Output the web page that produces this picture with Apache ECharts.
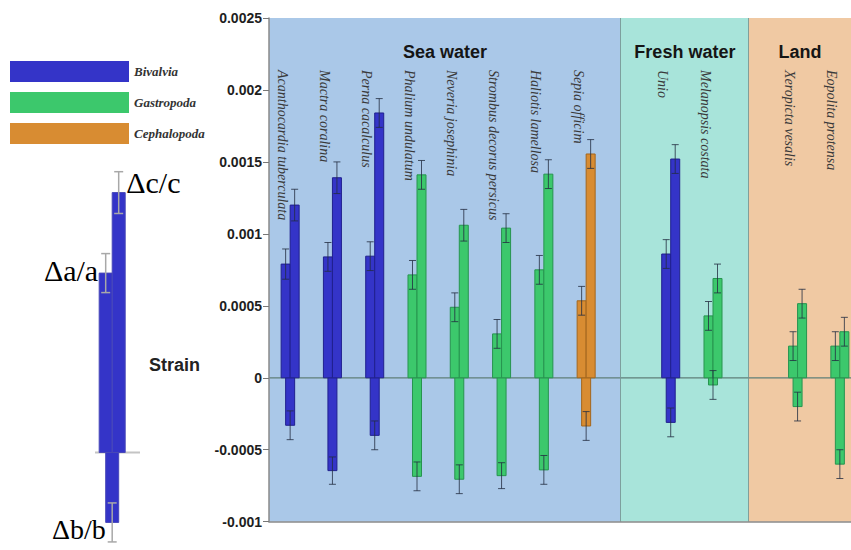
<!DOCTYPE html>
<html>
<head>
<meta charset="utf-8">
<script src="https://cdn.jsdelivr.net/npm/echarts@6/dist/echarts.min.js"></script>
<style>html,body{margin:0;padding:0;background:#fff}#c{width:851px;height:550px}</style>
</head>
<body>
<div id="c"></div>
<script>
// ---------- data ----------
const speciesNames = ['Acanthocardia tuberculata','Mactra coralina','Perna cacalculus','Phalium undulatum',
  'Neveria josephinia','Strombus decorus persicus','Haliotis lamellosa','Sepia officim',
  'Unio','Melanopsis costata','Xeropicta vesalis','Eopolita protensa'];
const speciesClass = ['Bivalvia','Bivalvia','Bivalvia','Gastropoda','Gastropoda','Gastropoda','Gastropoda',
  'Cephalopoda','Bivalvia','Gastropoda','Gastropoda','Gastropoda'];
const speciesSlot = [0,1,2,3,4,5,6,7,9,10,12,13];
const strainA = [0.00079,0.00084,0.000845,0.000715,0.00049,0.000305,0.00075,0.000535,0.00086,0.00043,0.00022,0.00022];
const strainB = [-0.00033,-0.000645,-0.0004,-0.000685,-0.000705,-0.00068,-0.00064,-0.000335,-0.00031,-0.00005,-0.0002,-0.0006];
const strainC = [0.0012,0.00139,0.00184,0.00141,0.00106,0.00104,0.001415,0.001555,0.00152,0.00069,0.000515,0.00032];
const errA = [0.000105,0.0001,0.0001,0.0001,0.0001,0.0001,0.0001,0.0001,0.0001,0.0001,0.0001,0.0001];
const errB = [0.0001,0.000095,0.0001,0.0001,0.0001,0.00009,0.0001,0.0001,0.0001,0.0001,0.0001,0.0001];
const errC = [0.00011,0.00011,0.0001,0.0001,0.00011,0.0001,0.0001,0.0001,0.0001,0.0001,0.0001,0.0001];
const classNames = ['Bivalvia','Gastropoda','Cephalopoda'];
const regionNames = ['Sea water','Fresh water','Land'];
const regionStart = [0, 8.32, 11.35];
const regionEnd = [8.32, 11.35, 13.77];
const insetLabels = ['\u0394a/a','\u0394b/b','\u0394c/c'];
const insetStrain = [0.000644,-0.000251,0.000933];
const insetErr = [0.00007,0.00007,0.000075];
const yMin = -0.001, yMax = 0.0025, yStep = 0.0005;

// ---------- styles ----------
const classColors = ['#3434c8','#3cc86c','#d88c32'];
const classBorders = ['#20208e','#27944f','#a4661c'];
const regionColors = ['#aac8e8','#a8e4da','#f0c9a3'];
const SANS = 'Liberation Sans, Arial, sans-serif';
const SERIF = 'Liberation Serif, Times New Roman, serif';
const BAR_W = 0.213, INSET_BAR_W = 0.289;

function barChildren(api, barW, border, errColor, capHalf, errWidth) {
  const x = api.value(0);
  const vals = [api.value(1), api.value(2), api.value(3)];
  const errs = [api.value(4), api.value(5), api.value(6)];
  const bw = api.size([barW, 0])[0];
  const base = api.coord([x, 0]);
  const color = api.visual('color');
  const offs = [-0.5, 0, 0.5];
  const order = [1, 0, 2];
  const ch = [];
  const pos = [];
  order.forEach(k => {
    const cx = base[0] + offs[k] * bw;
    const top = api.coord([x, vals[k]])[1];
    pos[k] = {cx, top};
    ch.push({type:'rect', shape:{x: cx - bw/2, y: Math.min(top, base[1]), width: bw, height: Math.abs(top - base[1])},
      style:{fill: color, stroke: border, lineWidth: 1}});
  });
  order.forEach(k => {
    const cx = pos[k].cx;
    const y1 = api.coord([x, vals[k] + errs[k]])[1];
    const y2 = api.coord([x, vals[k] - errs[k]])[1];
    const st = {stroke: errColor, lineWidth: errWidth};
    ch.push({type:'line', shape:{x1:cx, y1:y1, x2:cx, y2:y2}, style: st});
    ch.push({type:'line', shape:{x1:cx-capHalf, y1:y1, x2:cx+capHalf, y2:y1}, style: st});
    ch.push({type:'line', shape:{x1:cx-capHalf, y1:y2, x2:cx+capHalf, y2:y2}, style: st});
  });
  return {ch, pos, bw, base};
}

const classSeries = classNames.map((cn, ci) => ({
  type: 'custom', name: cn, xAxisIndex: 0, yAxisIndex: 0, z: 3,
  itemStyle: {color: classColors[ci]},
  encode: {x: 0, y: 1},
  data: speciesNames.map((n, i) => i).filter(i => speciesClass[i] === cn)
    .map(i => [speciesSlot[i] + 0.5, strainA[i], strainB[i], strainC[i], errA[i], errB[i], errC[i]]),
  renderItem: (params, api) => ({type:'group',
    children: barChildren(api, BAR_W, classBorders[ci], 'rgba(35,45,65,0.8)', 3.5, 1).ch})
}));

const option = {
  animation: false,
  backgroundColor: '#ffffff',
  legend: {
    data: classNames, orient: 'vertical', left: 10, top: 61, padding: 0,
    itemWidth: 119, itemHeight: 21, itemGap: 10, icon: 'rect', selectedMode: false,
    textStyle: {fontFamily: SERIF, fontStyle: 'italic', fontWeight: 'bold', fontSize: 13, color: '#333'}
  },
  grid: [
    {left: 269, top: 18, width: 592, height: 503.7, outerBoundsMode: 'none', containLabel: false},
    {left: 95, top: 160, width: 45, height: 390, outerBoundsMode: 'none', containLabel: false}
  ],
  xAxis: [
    {gridIndex: 0, type: 'value', min: 0, max: 14, z: 5,
      axisLine: {show: true, onZero: false, lineStyle: {color: '#8a8a8a', width: 1.5}},
      axisTick: {show: false}, axisLabel: {show: false}, splitLine: {show: false}},
    {gridIndex: 1, type: 'value', min: 0, max: 1, show: false}
  ],
  yAxis: [
    {gridIndex: 0, type: 'value', min: yMin, max: yMax, interval: yStep, z: 5,
      axisLine: {show: true, lineStyle: {color: '#8a8a8a', width: 1.5}},
      axisTick: {show: true, length: 6, lineStyle: {color: '#777'}},
      splitLine: {show: false},
      axisLabel: {margin: 7, fontFamily: SANS, fontSize: 14, fontWeight: 'bold', color: '#1e1e1e',
        formatter: v => String(parseFloat(Number(v).toFixed(4)))}},
    {gridIndex: 1, type: 'value', min: -0.00035, max: 0.00105, show: false}
  ],
  graphic: [
    {type: 'text', left: 149, top: 356, style: {text: 'Strain', fontFamily: SANS, fontSize: 18, fontWeight: 'bold', fill: '#222'}}
  ],
  series: [
    {
      type: 'custom', name: 'regions', xAxisIndex: 0, yAxisIndex: 0, z: 1, silent: true,
      data: regionNames.map((n, i) => [regionStart[i], regionEnd[i]]),
      renderItem: (params, api) => {
        const i = params.dataIndex;
        const s = api.value(0), e = api.value(1);
        const p0 = api.coord([s, yMax]), p1 = api.coord([e, yMin]);
        const z0 = api.coord([s, 0]), z1 = api.coord([e, 0]);
        const ch = [
          {type: 'rect', shape: {x: p0[0], y: p0[1], width: p1[0] - p0[0], height: p1[1] - p0[1]}, style: {fill: regionColors[i]}},
          {type: 'line', shape: {x1: z0[0], y1: z0[1], x2: z1[0], y2: z1[1]}, style: {stroke: '#5f7f78', lineWidth: 1.2}},
          {type: 'text', x: (p0[0] + p1[0]) / 2, y: p0[1] + 34,
            style: {text: regionNames[i], align: 'center', verticalAlign: 'middle', fontFamily: SANS, fontSize: 18, fontWeight: 'bold', fill: '#151515'}}
        ];
        if (i < regionNames.length - 1) {
          ch.push({type: 'line', shape: {x1: p1[0], y1: p0[1], x2: p1[0], y2: p1[1]}, style: {stroke: '#6f8c8a', lineWidth: 1.5}});
        }
        return {type: 'group', children: ch};
      }
    },
    {
      type: 'custom', name: 'species', xAxisIndex: 0, yAxisIndex: 0, z: 2, silent: true,
      data: speciesSlot.map(s => [s + 0.5, yMax]),
      renderItem: (params, api) => {
        const p = api.coord([api.value(0), api.value(1)]);
        return {type: 'text', x: p[0] - 8, y: p[1] + 52, rotation: -Math.PI / 2,
          style: {text: speciesNames[params.dataIndex], align: 'left', verticalAlign: 'middle',
            fontFamily: SERIF, fontStyle: 'italic', fontSize: 14, fill: '#3a3a3a'}};
      }
    },
    ...classSeries,
    {
      type: 'custom', name: 'inset', xAxisIndex: 1, yAxisIndex: 1, z: 3, silent: true,
      itemStyle: {color: classColors[0]},
      data: [[0.382, insetStrain[0], insetStrain[1], insetStrain[2], insetErr[0], insetErr[1], insetErr[2]]],
      renderItem: (params, api) => {
        const r = barChildren(api, INSET_BAR_W, '#4848b8', '#a8a8a8', 4.5, 1.5);
        const b0 = api.coord([0, 0]), b1 = api.coord([1, 0]);
        const ch = [{type: 'line', shape: {x1: b0[0], y1: b0[1], x2: b1[0], y2: b1[1]}, style: {stroke: '#c4c4c4', lineWidth: 2}}].concat(r.ch);
        const x = api.value(0);
        const ls = {fontFamily: SERIF, fontSize: 30, fill: '#000', verticalAlign: 'middle'};
        const yA = api.coord([x, insetStrain[0]])[1];
        const yB = api.coord([x, insetStrain[1] - insetErr[1]])[1];
        const yC = api.coord([x, insetStrain[2] + insetErr[2]])[1];
        ch.push({type: 'text', x: r.pos[0].cx - r.bw / 2 - 1, y: yA - 3, style: Object.assign({text: insetLabels[0], align: 'right'}, ls)});
        ch.push({type: 'text', x: r.pos[1].cx - r.bw / 2, y: yB - 12, style: Object.assign({text: insetLabels[1], align: 'right'}, ls, {fontSize: 28})});
        ch.push({type: 'text', x: r.pos[2].cx + r.bw / 2 + 1, y: yC + 11, style: Object.assign({text: insetLabels[2], align: 'left'}, ls)});
        return {type: 'group', children: ch};
      }
    }
  ]
};

const chart = echarts.init(document.getElementById('c'), null, {renderer: 'svg'});
chart.setOption(option);
</script>
</body>
</html>
